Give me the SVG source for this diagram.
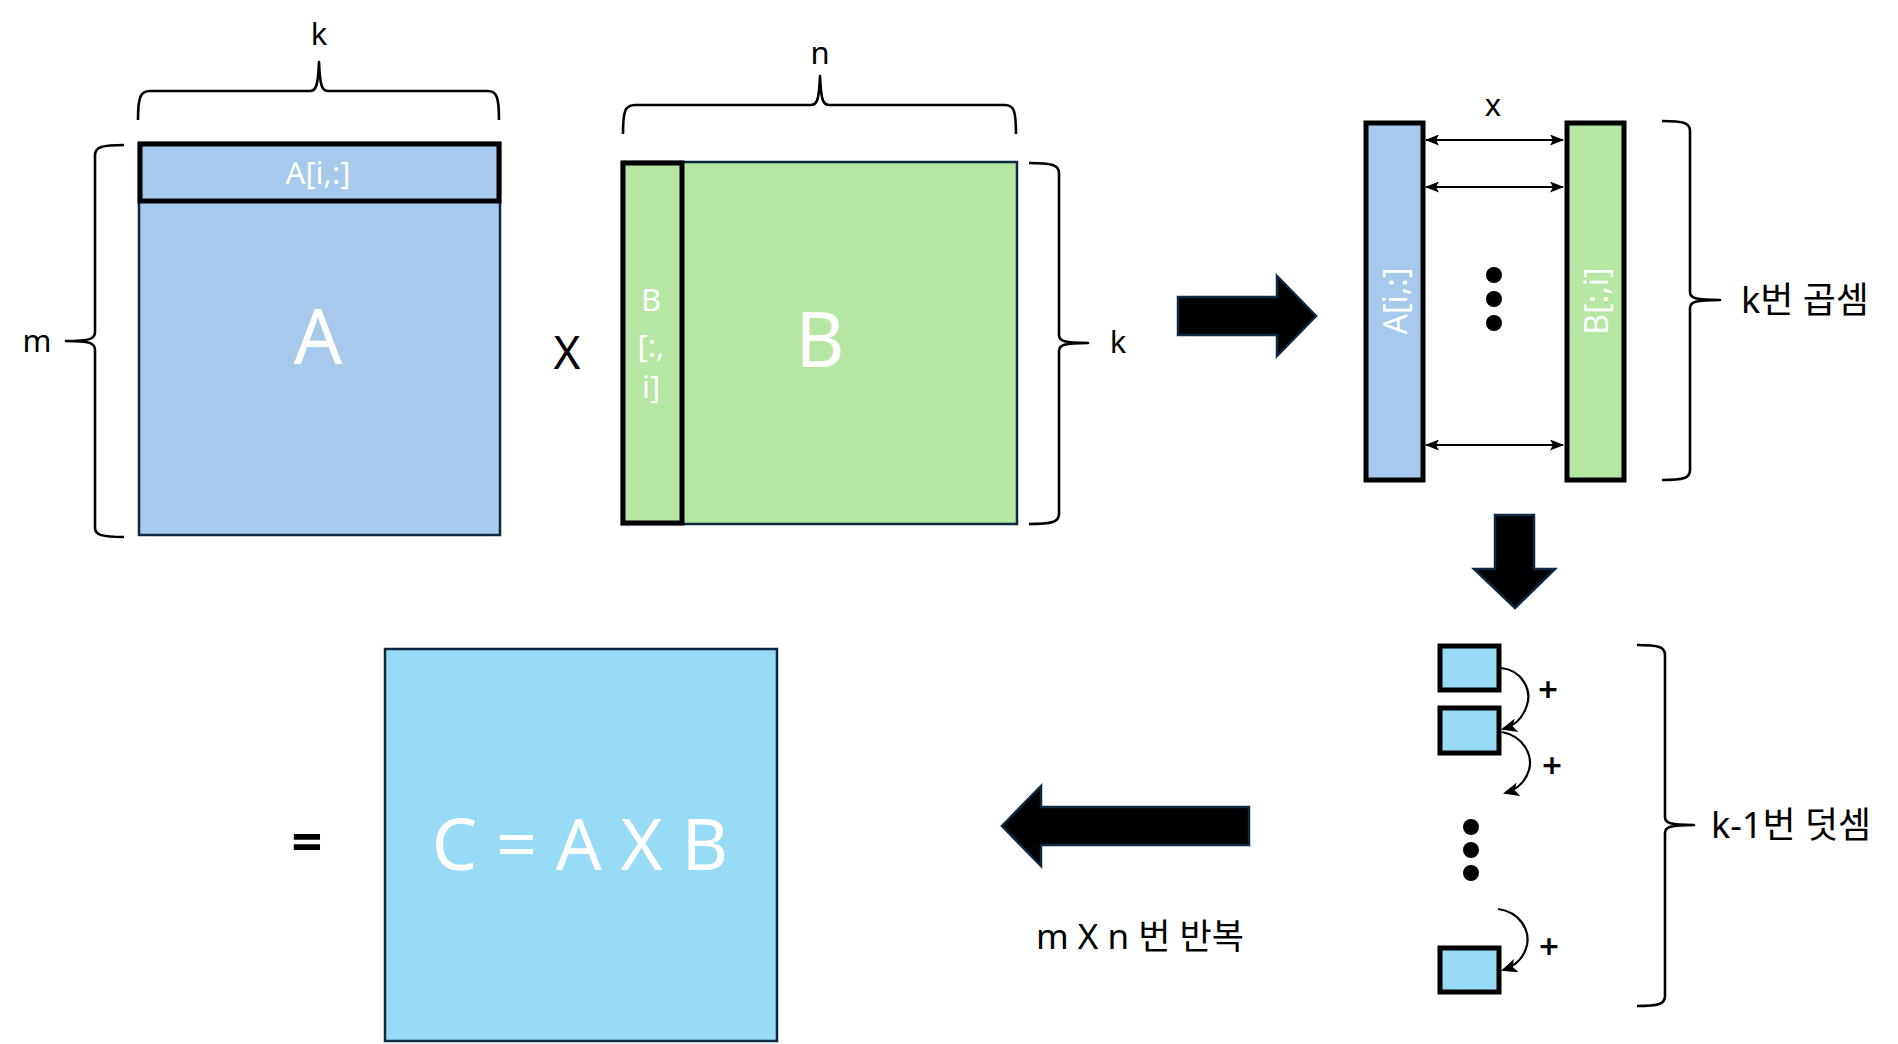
<svg xmlns="http://www.w3.org/2000/svg" width="1898" height="1044" viewBox="0 0 1898 1044">
<style>
  .lbl { font-family: "Noto Sans", "Noto Sans CJK KR", sans-serif; fill: #000; }
  .wt { font-family: "Noto Sans", "Noto Sans CJK KR", sans-serif; fill: #fff; }
  .brace { fill: none; stroke: #000; stroke-width: 2.6; stroke-linejoin: round; }
  .mat { stroke: #0E2841; stroke-width: 2.5; }
  .thick { fill: none; stroke: #000; stroke-width: 5; }
  .block { fill: #000; stroke: #0E2841; stroke-width: 2.5; stroke-linejoin: miter; }
  .conn { fill: none; stroke: #000; stroke-width: 2.2; }
  .cell { fill: #97DBF7; stroke: #000; stroke-width: 5; }
</style>
<defs>
  <marker id="ah" viewBox="0 0 14 11" refX="13" refY="5.5" markerWidth="14" markerHeight="11" markerUnits="userSpaceOnUse" orient="auto-start-reverse">
    <path d="M0,0 L14,5.5 L0,11 L3,5.5 Z" fill="#000"/>
  </marker>
  <marker id="ah2" viewBox="0 0 16 14" refX="14" refY="7" markerWidth="16" markerHeight="14" markerUnits="userSpaceOnUse" orient="auto">
    <path d="M0,0 L16,7 L0,14 L4,7 Z" fill="#000"/>
  </marker>
</defs>

<g id="matrixA">
  <rect class="mat" x="139" y="143" width="361" height="392" fill="#A6C9EC"/>
  <rect class="thick" x="140" y="144" width="359" height="57"/>
  <text class="wt" x="318" y="184" font-size="31" text-anchor="middle">A[i,:]</text>
  <text class="wt" x="318" y="364" font-size="76" text-anchor="middle">A</text>
</g>

<g id="braceA-top">
  <path class="brace" d="M138,120 C138,98 140,91 150,91 L310,91 C316,91 318,86 319,62 C320,86 322,91 328,91 L488,91 C497,91 499,98 499,120"/>
  <text class="lbl" x="319" y="45" font-size="31" text-anchor="middle">k</text>
</g>

<g id="braceA-left">
  <path class="brace" d="M124,145 C102,145 95,147 95,155 L95,332 C95,339 90,341 66,341 C90,341 95,343 95,350 L95,528 C95,535 102,537 124,537"/>
  <text class="lbl" x="37" y="352" font-size="31" text-anchor="middle">m</text>
</g>

<g id="times">
  <text class="lbl" x="567" y="369" font-size="46" text-anchor="middle">X</text>
</g>

<g id="matrixB">
  <rect class="mat" x="622" y="162" width="395" height="362" fill="#B5E6A2"/>
  <rect class="thick" x="623" y="163" width="59" height="360"/>
  <text class="wt" x="651" y="311" font-size="31" text-anchor="middle">B</text>
  <text class="wt" x="651" y="357" font-size="31" text-anchor="middle">[:,</text>
  <text class="wt" x="651" y="398" font-size="31" text-anchor="middle">i]</text>
  <text class="wt" x="820" y="367" font-size="76" text-anchor="middle">B</text>
</g>

<g id="braceB-top">
  <path class="brace" d="M623,134 C623,111 625,105 635,105 L811,105 C817,105 819,100 820,76 C821,100 823,105 829,105 L1005,105 C1014,105 1016,111 1016,134"/>
  <text class="lbl" x="820" y="64" font-size="31" text-anchor="middle">n</text>
</g>

<g id="braceB-right">
  <path class="brace" d="M1029,163 C1052,163 1059,165 1059,173 L1059,335 C1059,341 1064,343 1088,343 C1064,343 1059,345 1059,351 L1059,514 C1059,522 1052,524 1029,524"/>
  <text class="lbl" x="1118" y="353" font-size="31" text-anchor="middle">k</text>
</g>

<g id="arrow-right">
  <polygon class="block" points="1178,297 1277,297 1277,276 1316,316 1277,356 1277,335 1178,335"/>
</g>

<g id="rowA">
  <rect x="1366" y="123" width="57" height="357" fill="#A6C9EC" stroke="#000" stroke-width="5"/>
  <text class="wt" font-size="32" text-anchor="middle" dominant-baseline="central" transform="translate(1394,301) rotate(-90)">A[i,:]</text>
</g>

<g id="colB">
  <rect x="1567" y="123" width="57" height="357" fill="#B5E6A2" stroke="#000" stroke-width="5"/>
  <text class="wt" font-size="32" text-anchor="middle" dominant-baseline="central" transform="translate(1595,301) rotate(-90)">B[:,i]</text>
</g>

<g id="mul-label">
  <text class="lbl" x="1493" y="116" font-size="31" text-anchor="middle">x</text>
  <circle cx="1494" cy="275" r="8" fill="#000"/>
  <circle cx="1494" cy="299" r="8" fill="#000"/>
  <circle cx="1494" cy="323" r="8" fill="#000"/>
</g>

<g id="braceMul">
  <path class="brace" d="M1662,121 C1684,121 1690,123 1690,131 L1690,292 C1690,298 1695,300 1720,300 C1695,300 1690,302 1690,308 L1690,470 C1690,478 1684,480 1662,480"/>
  <text class="lbl" x="1741" y="313" font-size="36">k번 곱셈</text>
</g>

<g id="arrow-down">
  <polygon class="block" points="1495,515 1534,515 1534,569 1555,569 1515,608 1474,569 1495,569"/>
</g>

<g id="cell1"><rect class="cell" x="1440" y="646" width="59" height="44"/></g>
<g id="cell2"><rect class="cell" x="1440" y="708" width="59" height="45"/></g>
<g id="cell3"><rect class="cell" x="1440" y="948" width="59" height="44"/></g>

<g id="add-dots">
  <circle cx="1471" cy="827" r="8" fill="#000"/>
  <circle cx="1471" cy="850" r="8" fill="#000"/>
  <circle cx="1471" cy="873" r="8" fill="#000"/>
  <text class="lbl" x="1548" y="702" font-size="35" text-anchor="middle" font-weight="600">+</text>
  <text class="lbl" x="1552" y="778" font-size="35" text-anchor="middle" font-weight="600">+</text>
  <text class="lbl" x="1549" y="959" font-size="35" text-anchor="middle" font-weight="600">+</text>
</g>

<g id="braceAdd">
  <path class="brace" d="M1637,645 C1659,645 1665,647 1665,655 L1665,817 C1665,823 1670,825 1694,825 C1670,825 1665,827 1665,833 L1665,996 C1665,1004 1659,1006 1637,1006"/>
  <text class="lbl" x="1711" y="838" font-size="36">k-1번 덧셈</text>
</g>

<g id="arrow-left">
  <polygon class="block" points="1249,807 1041,807 1041,786 1002,826 1041,866 1041,845 1249,845"/>
  <text class="lbl" x="1036" y="949" font-size="35">m X n 번 반복</text>
</g>

<g id="equals">
  <text class="lbl" x="307" y="861" font-size="54" font-weight="bold" text-anchor="middle">=</text>
</g>

<g id="matrixC">
  <rect class="mat" x="385" y="649" width="392" height="392" fill="#97DBF7"/>
  <text class="wt" x="580" y="870" font-size="72" text-anchor="middle">C = A X B</text>
</g>

<g id="connectors">
  <line class="conn" x1="1426" y1="140" x2="1563" y2="140" marker-start="url(#ah)" marker-end="url(#ah)"/>
  <line class="conn" x1="1426" y1="187" x2="1563" y2="187" marker-start="url(#ah)" marker-end="url(#ah)"/>
  <line class="conn" x1="1426" y1="445" x2="1563" y2="445" marker-start="url(#ah)" marker-end="url(#ah)"/>
  <path class="conn" d="M1501,668 C1522,670 1532,690 1527,705 C1523,718 1514,726 1503,729" marker-end="url(#ah2)"/>
  <path class="conn" d="M1502,732 C1524,736 1533,756 1529,770 C1525,783 1516,790 1505,793" marker-end="url(#ah2)"/>
  <path class="conn" d="M1498,909 C1520,912 1530,930 1527,945 C1524,958 1515,966 1503,970" marker-end="url(#ah2)"/>
</g>
</svg>
